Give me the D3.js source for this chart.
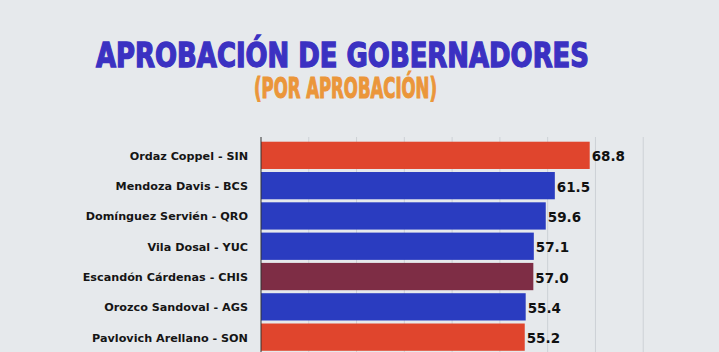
<!DOCTYPE html>
<html>
<head>
<meta charset="utf-8">
<script src="https://cdn.jsdelivr.net/npm/d3@7"></script>
<style>
  body { margin: 0; background: #e6e9ec; }
  svg { display: block; }
</style>
</head>
<body>
<svg></svg>
<script>
var names = ["Ordaz Coppel - SIN", "Mendoza Davis - BCS", "Domínguez Servién - QRO", "Vila Dosal - YUC",
    "Escandón Cárdenas - CHIS", "Orozco Sandoval - AGS", "Pavlovich Arellano - SON"]
var values = [68.8, 61.5, 59.6, 57.1, 57.0, 55.4, 55.2]
var parties = ["red", "blue", "blue", "blue", "maroon", "blue", "red"]
var gridTicks = [10, 20, 30, 40, 50, 60, 70, 80]

var width = 719, height = 352

var svg = d3.select("svg")
    .attr("width", width)
    .attr("height", height)

svg.append("rect")
    .attr("width", width)
    .attr("height", height)
    .attr("fill", "#e6e9ec")

// title (heavy condensed face, thickened with a stroke)
svg.append("text")
    .attr("x", 342.5)
    .attr("y", 67)
    .attr("text-anchor", "middle")
    .attr("textLength", 493)
    .attr("lengthAdjust", "spacingAndGlyphs")
    .style("font-family", "'DejaVu Sans Condensed', 'Liberation Sans Narrow', sans-serif")
    .style("font-weight", "bold")
    .style("font-size", "33px")
    .attr("fill", "#3b31c2")
    .attr("stroke", "#3b31c2")
    .attr("stroke-width", 1.3)
    .text("APROBACIÓN DE GOBERNADORES")

svg.append("text")
    .attr("x", 345.5)
    .attr("y", 98)
    .attr("text-anchor", "middle")
    .attr("textLength", 183)
    .attr("lengthAdjust", "spacingAndGlyphs")
    .style("font-family", "'DejaVu Sans Condensed', 'Liberation Sans Narrow', sans-serif")
    .style("font-weight", "bold")
    .style("font-size", "28px")
    .attr("fill", "#eb963a")
    .attr("stroke", "#eb963a")
    .attr("stroke-width", 1.1)
    .text("(POR APROBACIÓN)")

var colors = { red: "#e0452d", blue: "#2a3cc0", maroon: "#7e2d45" }

var xScale = d3.scaleLinear()
    .domain([0, 90])
    .range([261, 691])

var yScale = d3.scaleBand()
    .domain(names)
    .range([140.2, 352.3])
    .paddingInner(0.1)
    .paddingOuter(0.05)

// gridlines
svg.append("g")
    .selectAll("line")
    .data(gridTicks)
    .enter()
    .append("line")
    .attr("x1", d => xScale(d))
    .attr("x2", d => xScale(d))
    .attr("y1", 137)
    .attr("y2", height)
    .attr("stroke", "#cdd1d6")
    .attr("stroke-width", 1)

svg.selectAll("rect.bar")
    .data(values)
    .enter()
    .append("rect")
    .attr("class", "bar")
    .attr("x", xScale(0))
    .attr("y", (d, i) => yScale(names[i]))
    .attr("width", d => xScale(d) - xScale(0))
    .attr("height", yScale.bandwidth())
    .attr("fill", (d, i) => colors[parties[i]])

// axis line, labels on the left
var yAxis = svg.append("g")
    .attr("transform", "translate(" + xScale(0) + ",0)")
    .call(d3.axisLeft(yScale).tickSize(0).tickPadding(13))

yAxis.select(".domain")
    .attr("d", "M0,137V" + height)
    .attr("stroke", "#333")

yAxis.selectAll("text")
    .attr("dy", "0.4em")
    .style("font-family", "'DejaVu Sans', sans-serif")
    .style("font-weight", "bold")
    .style("font-size", "11.2px")
    .attr("fill", "#151515")

svg.selectAll("text.val")
    .data(values)
    .enter()
    .append("text")
    .attr("class", "val")
    .attr("x", d => xScale(d) + 2)
    .attr("y", (d, i) => yScale(names[i]) + yScale.bandwidth() / 2 + 6)
    .style("font-family", "'DejaVu Sans', sans-serif")
    .style("font-weight", "bold")
    .style("font-size", "13.5px")
    .attr("fill", "#111")
    .text(d => d.toFixed(1))
</script>
</body>
</html>
